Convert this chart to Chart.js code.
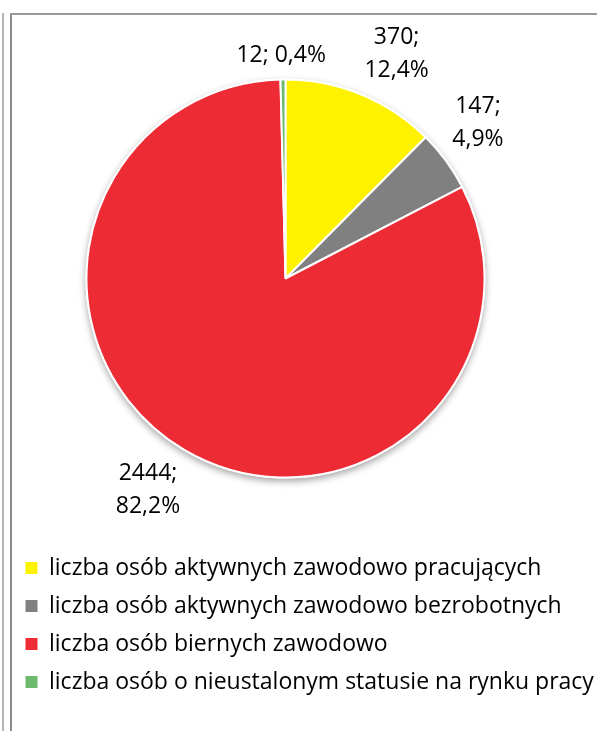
<!DOCTYPE html>
<html>
<head>
<meta charset="utf-8">
<script src="https://cdn.jsdelivr.net/npm/chart.js@4"></script>
<style>
  html, body { margin: 0; padding: 0; background: #fff; }
  #wrap { position: relative; width: 597px; height: 731px; overflow: hidden; }
  #chartCanvas { position: absolute; left: 0; top: 0; }
  .ln { position: absolute; }
</style>
</head>
<body>
<div id="wrap">
  <canvas id="chartCanvas" width="597" height="731"></canvas>
  <div class="ln" style="left:2px;top:13px;width:2px;height:718px;background:#b4b4b4"></div>
  <div class="ln" style="left:10px;top:13px;width:2px;height:718px;background:#8c8c8c"></div>
  <div class="ln" style="left:10px;top:13px;width:587px;height:2px;background:#999"></div>
</div>
<script>
// data
var categories = [
  "liczba osób aktywnych zawodowo pracujących",
  "liczba osób aktywnych zawodowo bezrobotnych",
  "liczba osób biernych zawodowo",
  "liczba osób o nieustalonym statusie na rynku pracy"
];
var values = [370, 147, 2444, 12];
var sliceColors = ["#FFF200", "#808080", "#ED2B35", "#6DB96D"];
var wrapLabel = [true, true, true, false];

var FONT = '"Open Sans"';
var fontSize = 23;
var lineH = 33;
var gap = 8;

Chart.defaults.font.family = FONT;

function clamp1(v) { return Math.max(-1, Math.min(1, v)); }

// soft shadow under the pie, like Excel
var pieShadow = {
  id: 'pieShadow',
  beforeDatasetsDraw: function(chart) {
    var arc = chart.getDatasetMeta(0).data[0];
    if (!arc) return;
    var p = arc.getProps(['x', 'y', 'outerRadius'], true);
    var ctx = chart.ctx;
    ctx.save();
    ctx.shadowColor = 'rgba(0,0,0,0.35)';
    ctx.shadowBlur = 7;
    ctx.shadowOffsetY = 3;
    ctx.fillStyle = '#fff';
    ctx.beginPath();
    ctx.arc(p.x, p.y, p.outerRadius + 1, 0, Math.PI * 2);
    ctx.fill();
    ctx.restore();
  }
};

// legend box is clipped to its area, let it run to the canvas edge
var wideLegend = {
  id: 'wideLegend',
  afterLayout: function(chart) {
    var lg = chart.legend;
    lg.right = chart.width;
    lg.width = lg.right - lg.left;
  }
};

// "value; pct" labels outside each slice
var pieLabels = {
  id: 'pieLabels',
  afterDatasetsDraw: function(chart) {
    var ctx = chart.ctx;
    var meta = chart.getDatasetMeta(0);
    var total = values.reduce(function(a, b) { return a + b; }, 0);
    ctx.save();
    ctx.font = fontSize + 'px ' + FONT;
    ctx.fillStyle = '#000';
    ctx.textAlign = 'center';
    ctx.textBaseline = 'middle';
    meta.data.forEach(function(arc, i) {
      var p = arc.getProps(['x', 'y', 'startAngle', 'endAngle', 'outerRadius'], true);
      var mid = (p.startAngle + p.endAngle) / 2;
      var ux = Math.cos(mid), uy = Math.sin(mid);
      var pct = (values[i] / total * 100).toFixed(1).replace('.', ',') + '%';
      var lines = wrapLabel[i] ? [values[i] + ';', pct] : [values[i] + '; ' + pct];
      var w = Math.max.apply(null, lines.map(function(t) { return ctx.measureText(t).width; }));
      var h = lines.length * lineH;
      var d = p.outerRadius + gap;
      var cx = p.x + ux * d + clamp1(ux * 3) * w / 2;
      var cy = p.y + uy * d + clamp1(uy * 3) * h / 2;
      lines.forEach(function(t, k) {
        ctx.fillText(t, cx, cy - h / 2 + lineH * (k + 0.5));
      });
    });
    ctx.restore();
  }
};

new Chart(document.getElementById('chartCanvas'), {
  type: 'pie',
  data: {
    labels: categories,
    datasets: [{
      data: values,
      backgroundColor: sliceColors,
      borderColor: '#fff',
      borderWidth: 2
    }]
  },
  options: {
    responsive: false,
    animation: false,
    layout: { padding: { top: 78.5, bottom: 27.5, left: 10.5, right: 36.5 } },
    plugins: {
      tooltip: { enabled: false },
      legend: {
        position: 'bottom',
        align: 'start',
        title: { display: true, text: '', font: { size: 10, lineHeight: 1 }, padding: { top: 53, bottom: 0 } },
        labels: {
          boxWidth: 12,
          boxHeight: 12,
          padding: 15,
          color: '#000',
          font: { size: fontSize, family: FONT },
          generateLabels: function(chart) {
            var items = Chart.overrides.pie.plugins.legend.labels.generateLabels(chart);
            items.forEach(function(it) { it.lineWidth = 0; });
            return items;
          }
        }
      }
    }
  },
  plugins: [wideLegend, pieShadow, pieLabels]
});
</script>
</body>
</html>
